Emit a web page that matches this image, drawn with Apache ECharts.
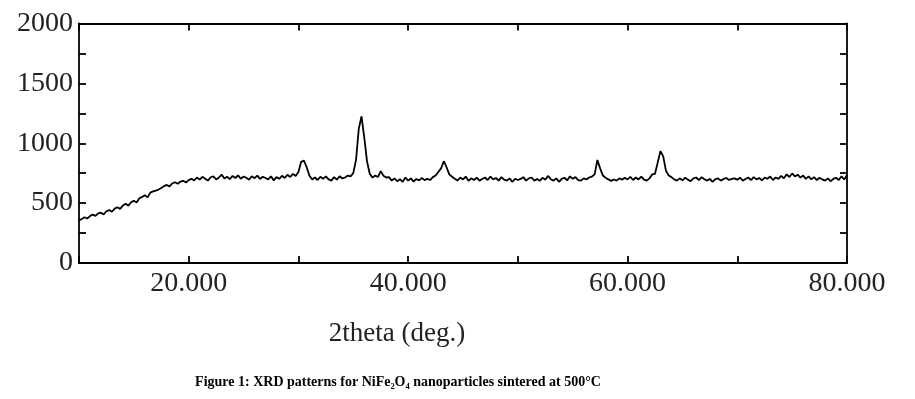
<!DOCTYPE html>
<html>
<head>
<meta charset="utf-8">
<script src="https://cdn.jsdelivr.net/npm/echarts@6/dist/echarts.min.js"></script>
<style>html,body{margin:0;padding:0;background:#fff}#c{width:915px;height:399px}</style>
</head>
<body>
<div id="c"></div>
<script>
// 2theta grid of the scan (degrees)
const twoThetaStart = 10;
const twoThetaStep = 0.25;
// intensity, one value per 0.25 deg, 10.00 .. 80.00
const intensity = [
  355,368,382,372,392,404,394,414,420,406,   // 10.00
  432,442,428,454,466,452,480,494,478,507,   // 12.50
  520,506,540,552,566,548,588,598,604,614,   // 15.00
  626,642,652,640,664,674,662,680,686,672,   // 17.50
  692,704,690,714,696,720,704,688,716,724,   // 20.00
  698,714,738,706,720,700,727,710,732,704,   // 22.50
  722,712,696,724,708,730,702,720,710,698,   // 25.00
  724,690,717,703,728,710,737,718,744,726,   // 27.50
  760,845,855,800,730,698,714,693,720,703,   // 30.00
  724,698,688,717,696,724,706,714,730,723,   // 32.50
  750,860,1120,1225,1050,850,745,713,730,718,// 35.00
  767,728,714,718,688,707,683,700,678,714,   // 37.50
  688,707,680,702,690,710,692,702,693,717,   // 40.00
  730,760,790,850,800,740,720,703,688,714,   // 42.50
  698,722,686,707,693,712,688,702,714,693,   // 45.00
  722,698,710,688,717,696,688,707,676,704,   // 47.50
  693,702,717,688,707,714,688,702,686,712,   // 50.00
  696,727,700,688,707,678,702,712,690,724,   // 52.50
  703,717,693,688,707,698,714,722,740,860,   // 55.00
  790,730,712,698,686,697,688,707,696,712,   // 57.50
  698,720,693,714,698,722,696,688,707,740,   // 60.00
  745,840,935,890,770,730,717,698,688,707,   // 62.50
  690,712,696,683,707,714,693,717,700,688,   // 65.00
  702,678,700,707,688,702,710,693,702,707,   // 67.50
  696,712,688,702,714,693,717,698,710,690,   // 70.00
  714,703,722,693,714,703,727,708,740,718,   // 72.50
  748,723,737,713,730,703,724,698,717,693,   // 75.00
  712,698,688,707,683,702,712,693,724,698,   // 77.50
  735                                        // 80.00
];
const xMin = 10, xMax = 80, xTickStep = 10;
const yMin = 0, yMax = 2000, yTickStep = 250;
const xAxisTitle = '2theta (deg.)';
const caption = 'Figure 1: XRD patterns for NiFe\u2082O\u2084 nanoparticles sintered at 500\u00B0C';

const points = intensity.map((v, i) => [twoThetaStart + i * twoThetaStep, v]);

const serif = '"Liberation Serif", "Times New Roman", serif';
const axisCommon = {
  axisLine: { show: true, onZero: false, lineStyle: { color: '#000', width: 1.8 } },
  axisTick: { show: true, inside: true, length: 7, lineStyle: { color: '#000', width: 1.8 } },
  splitLine: { show: false }
};

const chart = echarts.init(document.getElementById('c'), null, { renderer: 'canvas' });
chart.setOption({
  animation: false,
  backgroundColor: '#fff',
  title: [
    { text: xAxisTitle, left: 392, top: 315, textAlign: 'center',
      textStyle: { fontFamily: serif, fontSize: 27, fontWeight: 'normal', color: '#222' } },
    { text: caption, left: 393, top: 370, textAlign: 'center',
      textStyle: { fontFamily: serif, fontSize: 14, fontWeight: 'bold', color: '#000' } }
  ],
  grid: { left: 79, right: 68, top: 23.5, bottom: 136, containLabel: false },
  xAxis: [
    Object.assign({}, axisCommon, {
      type: 'value', position: 'bottom', min: xMin, max: xMax, interval: xTickStep,
      axisLabel: { show: true, margin: 7, color: '#222', fontFamily: serif, fontSize: 28,
        formatter: v => (v % 20 === 0 && v > xMin) ? v.toFixed(3) : '' }
    }),
    Object.assign({}, axisCommon, {
      type: 'value', position: 'top', min: xMin, max: xMax, interval: xTickStep,
      axisLabel: { show: false }
    })
  ],
  yAxis: [
    Object.assign({}, axisCommon, {
      type: 'value', position: 'left', min: yMin, max: yMax, interval: yTickStep,
      axisLabel: { show: true, margin: 6, color: '#222', fontFamily: serif, fontSize: 28,
        formatter: v => (v % 500 === 0) ? String(v) : '' }
    }),
    Object.assign({}, axisCommon, {
      type: 'value', position: 'right', min: yMin, max: yMax, interval: yTickStep,
      axisLabel: { show: false }
    })
  ],
  series: [{
    type: 'line', xAxisIndex: 0, yAxisIndex: 0, data: points,
    showSymbol: false, symbol: 'none', smooth: false,
    lineStyle: { color: '#000', width: 1.8 }
  }]
});
</script>
</body>
</html>
